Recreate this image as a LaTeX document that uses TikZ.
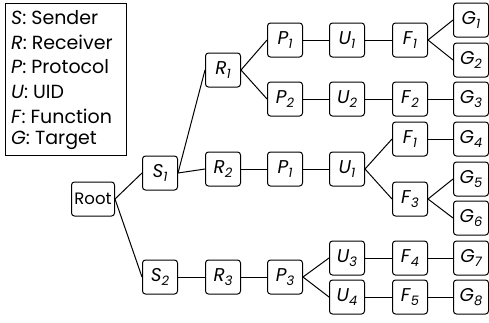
\documentclass[tikz,border=0pt]{standalone}
\usepackage{fontspec}
\setmainfont{Poppins}
\newcommand{\lab}[2]{\textit{#1}\raisebox{-0.45ex}{\fontsize{13}{13}\selectfont\itshape #2}}
\begin{document}
\begin{tikzpicture}[x=1pt,y=-1pt,
  nbox/.style={draw, rounded corners=3pt, line width=1pt, minimum width=35pt, minimum height=34pt, inner sep=1pt, font=\fontsize{18.5}{18.5}\selectfont},
  conn/.style={line width=1pt}]
\useasboundingbox (0,0) rectangle (489,322);
% legend
\node[draw, line width=1pt, anchor=north west, minimum width=121pt, minimum height=152pt] (legend) at (5,3) {};
\foreach \t [count=\i] in {{\textit{S}: Sender},{\textit{R}: Receiver},{\textit{P}: Protocol},{\textit{U}: UID},{\textit{F}: Function},{\textit{G}: Target}}
  \node[anchor=west, inner sep=0pt, font=\fontsize{19}{19}\selectfont] (leg\i) at (11,{18+24.5*(\i-1)}) {\t};
% nodes
\node[nbox, minimum width=43pt, font=\fontsize{16.5}{16.5}\selectfont] (root) at (93,199) {Root};
\node[nbox] (s1) at (160,173) {\lab{S}{1}};
\node[nbox] (s2) at (160,277) {\lab{S}{2}};
\node[nbox] (r1) at (223,70) {\lab{R}{1}};
\node[nbox] (r2) at (223,169) {\lab{R}{2}};
\node[nbox] (r3) at (223,277) {\lab{R}{3}};
\node[nbox] (p1a) at (285,40) {\lab{P}{1}};
\node[nbox] (p2) at (285,99) {\lab{P}{2}};
\node[nbox] (p1b) at (285,169) {\lab{P}{1}};
\node[nbox] (p3) at (285,277) {\lab{P}{3}};
\node[nbox] (u1a) at (347,40) {\lab{U}{1}};
\node[nbox] (u2) at (347,99) {\lab{U}{2}};
\node[nbox] (u1b) at (347,169) {\lab{U}{1}};
\node[nbox] (u3) at (347,258) {\lab{U}{3}};
\node[nbox] (u4) at (347,297) {\lab{U}{4}};
\node[nbox] (f1a) at (410,40) {\lab{F}{1}};
\node[nbox] (f2) at (410,99) {\lab{F}{2}};
\node[nbox] (f1b) at (410,139) {\lab{F}{1}};
\node[nbox] (f3) at (410,199) {\lab{F}{3}};
\node[nbox] (f4) at (410,258) {\lab{F}{4}};
\node[nbox] (f5) at (410,297) {\lab{F}{5}};
\node[nbox] (g1) at (471,20) {\lab{G}{1}};
\node[nbox] (g2) at (471,60) {\lab{G}{2}};
\node[nbox] (g3) at (471,99) {\lab{G}{3}};
\node[nbox] (g4) at (471,139) {\lab{G}{4}};
\node[nbox] (g5) at (471,179) {\lab{G}{5}};
\node[nbox] (g6) at (471,218) {\lab{G}{6}};
\node[nbox] (g7) at (471,258) {\lab{G}{7}};
\node[nbox] (g8) at (471,297) {\lab{G}{8}};
% connectors
\foreach \a/\b in {root/s1,root/s2,s1/r1,s1/r2,s2/r3,r1/p1a,r1/p2,r2/p1b,r3/p3,
  p1a/u1a,p2/u2,p1b/u1b,p3/u3,p3/u4,u1a/f1a,u2/f2,u1b/f1b,u1b/f3,u3/f4,u4/f5,
  f1a/g1,f1a/g2,f2/g3,f1b/g4,f3/g5,f3/g6,f4/g7,f5/g8}
  \draw[conn] (\a.east) -- (\b.west);
\end{tikzpicture}
\end{document}
